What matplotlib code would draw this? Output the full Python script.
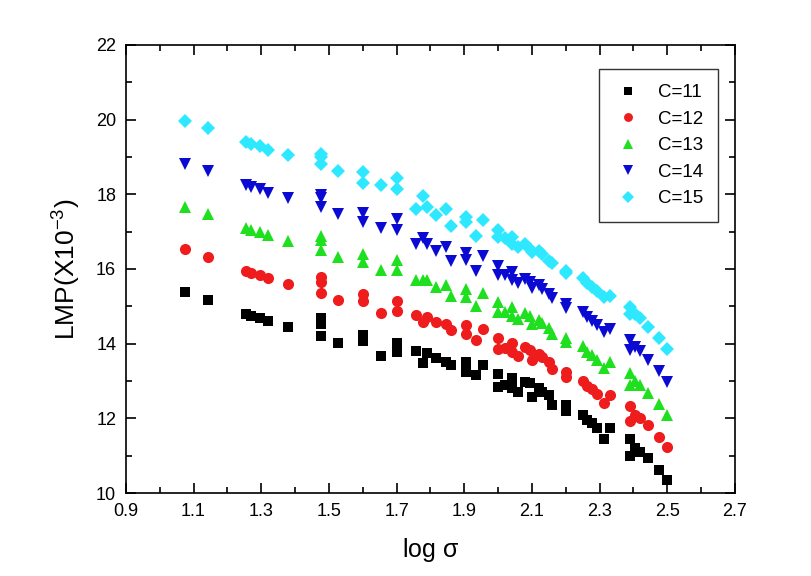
import matplotlib.pyplot as plt
import numpy as np

plt.rcParams['font.family'] = ['Liberation Sans', 'DejaVu Sans']

# log sigma values (shared by all series)
log_sigma = [1.075, 1.143, 1.255, 1.27, 1.295, 1.32, 1.38, 1.477, 1.477, 1.477,
             1.527, 1.60, 1.60, 1.654, 1.70, 1.70, 1.758, 1.778, 1.79, 1.817,
             1.846, 1.86, 1.906, 1.906, 1.935, 1.957, 2.0, 2.0, 2.02, 2.04,
             2.04, 2.06, 2.08, 2.095, 2.10, 2.12, 2.13, 2.15, 2.16, 2.2,
             2.2, 2.25, 2.263, 2.278, 2.293, 2.312, 2.332, 2.39, 2.39, 2.406,
             2.42, 2.442, 2.475, 2.5]

lmp_c11 = [15.38, 15.17, 14.80, 14.75, 14.69, 14.62, 14.45, 14.69, 14.53, 14.20,
           14.02, 14.23, 14.07, 13.67, 14.03, 13.78, 13.81, 13.47, 13.74, 13.61,
           13.52, 13.43, 13.52, 13.25, 13.16, 13.43, 13.20, 12.85, 12.90, 13.07,
           12.80, 12.71, 12.98, 12.94, 12.58, 12.80, 12.71, 12.62, 12.36, 12.35,
           12.20, 12.09, 11.95, 11.87, 11.73, 11.46, 11.73, 11.46, 10.99, 11.20,
           11.10, 10.93, 10.62, 10.35]
lmp_c12 = [16.53, 16.32, 15.95, 15.90, 15.84, 15.76, 15.60, 15.79, 15.65, 15.35,
           15.17, 15.32, 15.13, 14.82, 15.13, 14.87, 14.76, 14.59, 14.72, 14.57,
           14.54, 14.36, 14.49, 14.25, 14.09, 14.40, 14.16, 13.85, 13.88, 14.02,
           13.77, 13.68, 13.90, 13.84, 13.55, 13.72, 13.63, 13.52, 13.31, 13.25,
           13.12, 13.01, 12.87, 12.78, 12.65, 12.41, 12.62, 12.34, 11.94, 12.10,
           12.00, 11.81, 11.50, 11.23]
lmp_c13 = [17.67, 17.47, 17.10, 17.05, 16.99, 16.90, 16.75, 16.89, 16.77, 16.50,
           16.32, 16.41, 16.19, 15.96, 16.23, 15.96, 15.71, 15.71, 15.70, 15.53,
           15.56, 15.29, 15.46, 15.25, 15.02, 15.37, 15.12, 14.85, 14.86, 14.97,
           14.74, 14.65, 14.82, 14.74, 14.52, 14.64, 14.55, 14.42, 14.26, 14.15,
           14.04, 13.93, 13.79, 13.69, 13.57, 13.36, 13.51, 13.22, 12.89, 13.00,
           12.90, 12.69, 12.38, 12.10]
lmp_c14 = [18.82, 18.62, 18.25, 18.20, 18.14, 18.04, 17.90, 17.99, 17.89, 17.65,
           17.47, 17.50, 17.25, 17.11, 17.33, 17.05, 16.66, 16.83, 16.68, 16.49,
           16.58, 16.22, 16.43, 16.25, 15.95, 16.34, 16.08, 15.85, 15.84, 15.92,
           15.71, 15.62, 15.74, 15.64, 15.49, 15.56, 15.47, 15.32, 15.21, 15.05,
           14.96, 14.85, 14.71, 14.60, 14.49, 14.31, 14.40, 14.10, 13.84, 13.90,
           13.80, 13.57, 13.26, 12.98]
lmp_c15 = [19.96, 19.77, 19.40, 19.35, 19.29, 19.18, 19.05, 19.09, 19.01, 18.80,
           18.62, 18.59, 18.31, 18.25, 18.43, 18.14, 17.61, 17.95, 17.66, 17.45,
           17.60, 17.15, 17.40, 17.25, 16.88, 17.31, 17.04, 16.85, 16.82, 16.87,
           16.68, 16.59, 16.66, 16.54, 16.46, 16.48, 16.39, 16.22, 16.16, 15.95,
           15.88, 15.77, 15.63, 15.51, 15.41, 15.26, 15.29, 14.98, 14.79, 14.80,
           14.70, 14.45, 14.14, 13.85]

labels = ['C=11', 'C=12', 'C=13', 'C=14', 'C=15']
series = [lmp_c11, lmp_c12, lmp_c13, lmp_c14, lmp_c15]
markers = ['s', 'o', '^', 'v', 'D']
sizes = [7, 8, 8.5, 8.5, 7.2]
colors = ['#000000', '#ee1c1c', '#1ee01e', '#0a0ad2', '#2ee8ff']

fig = plt.figure(figsize=(8.12, 5.76), dpi=100)
ax = fig.add_axes([0.155, 0.144, 0.75, 0.778])

for y, lab, m, ms, c in zip(series, labels, markers, sizes, colors):
    ax.plot(log_sigma, y, linestyle='none', marker=m, markersize=ms,
            color=c, markeredgewidth=0, label=lab)

ax.set_xlim(0.9, 2.7)
ax.set_ylim(10, 22)
ax.set_xticks(np.arange(0.9, 2.71, 0.2))
ax.set_xticklabels(['0.9', '1.1', '1.3', '1.5', '1.7', '1.9', '2.1', '2.3', '2.5', '2.7'])
ax.set_xticks(np.arange(1.0, 2.61, 0.2), minor=True)
ax.set_yticks(np.arange(10, 22.1, 2))
ax.set_yticks(np.arange(11, 21.1, 2), minor=True)
ax.tick_params(which='both', direction='in', top=True, right=True, width=1.2)
ax.tick_params(which='major', length=7, labelsize=13, pad=7)
ax.tick_params(which='minor', length=4)
for s in ax.spines.values():
    s.set_linewidth(1.2)

ax.set_xlabel('log $\\mathregular{\\sigma}$', fontsize=18, labelpad=12)
ax.set_ylabel('LMP(X10$^{\\mathregular{-3}}$)', fontsize=19, labelpad=10)

leg = ax.legend(loc='upper right', bbox_to_anchor=(0.972, 0.946), borderaxespad=0,
                fancybox=False, edgecolor='black', fontsize=13.5, handletextpad=0.8,
                borderpad=0.8, labelspacing=0.5, handlelength=1.5, markerscale=0.8)
leg.get_frame().set_linewidth(1.0)

fig.savefig('out.png', dpi=100)
